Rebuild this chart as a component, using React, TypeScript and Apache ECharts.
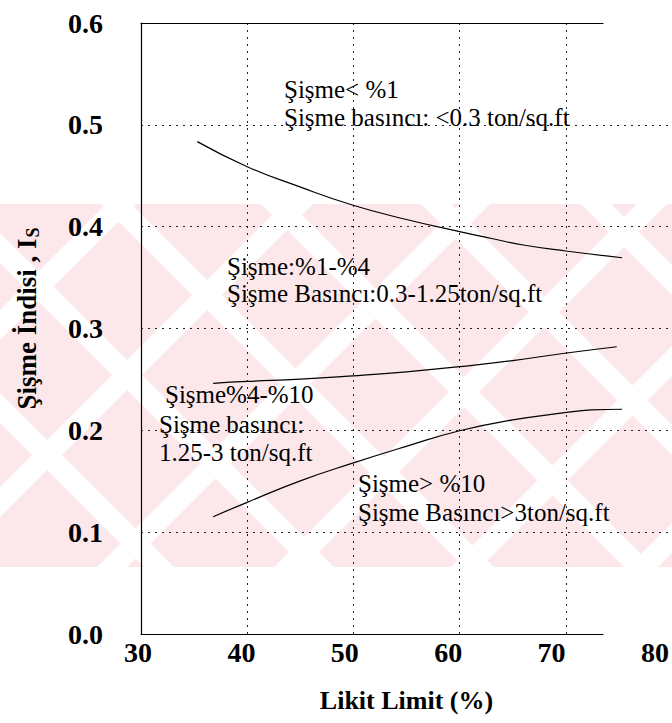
import React, { useEffect, useRef } from "react";
import * as echarts from "echarts";

// ---- tick labels ----
const xTickLabels = [30, 40, 50, 60, 70, 80];
const yTickLabels = [0, 0.1, 0.2, 0.3, 0.4, 0.5, 0.6];

// ---- boundary curves (Likit Limit %, Şişme İndisi) ----
const upperX = [35.3, 40, 44.9, 49.9, 55, 60, 62.9, 66, 70, 75.3];
const upperY = [0.4835, 0.4589, 0.4393, 0.4213, 0.407, 0.3951, 0.3886, 0.382, 0.3761, 0.3695];

const middleX = [36.8, 40, 45, 50, 55, 60, 65, 69.9, 74.8];
const middleY = [0.2462, 0.248, 0.2502, 0.2535, 0.2575, 0.2625, 0.2685, 0.2757, 0.2821];

const lowerX = [36.8, 40, 45, 50, 54.9, 60, 65, 69.9, 72.4, 75.3];
const lowerY = [0.1152, 0.1293, 0.1504, 0.168, 0.184, 0.1996, 0.2102, 0.2173, 0.22, 0.2207];

// ---- zone annotations ----
const zoneTexts = [
  ["Şişme< %1", "Şişme basıncı: <0.3 ton/sq.ft"],
  ["Şişme:%1-%4", "Şişme Basıncı:0.3-1.25ton/sq.ft"],
  ["Şişme%4-%10"],
  ["Şişme basıncı:", "1.25-3 ton/sq.ft"],
  ["Şişme> %10", "Şişme Basıncı>3ton/sq.ft"],
];
const zoneLayout = [
  { x: 284, y: 75, lh: 28 },
  { x: 227, y: 253, lh: 27 },
  { x: 165, y: 380, lh: 28 },
  { x: 159, y: 410, lh: 28 },
  { x: 358, y: 469, lh: 29 },
];

const FONT = "'Liberation Serif', 'Times New Roman', serif";

function pairs(xs: number[], ys: number[]) {
  return xs.map((x, i) => [x, ys[i]]);
}

function watermark() {
  const top = 204;
  const bottom = 567;
  const w = 30;
  const els: any[] = [
    {
      type: "rect",
      shape: { x: 0, y: top, width: 672, height: bottom - top },
      style: { fill: "#fce7ea" },
      z: -100,
      silent: true,
    },
  ];
  for (let k = -2; k <= 3; k++) {
    const c = -103 + 160 * k;
    els.push({
      type: "polygon",
      shape: {
        points: [
          [c + top, top],
          [c + top + w, top],
          [c + bottom + w, bottom],
          [c + bottom, bottom],
        ],
      },
      style: { fill: "#ffffff" },
      z: -99,
      silent: true,
    });
  }
  for (let k = -1; k <= 4; k++) {
    const d = 487 + 177 * k;
    els.push({
      type: "polygon",
      shape: {
        points: [
          [d - top, top],
          [d - top + w, top],
          [d - bottom + w, bottom],
          [d - bottom, bottom],
        ],
      },
      style: { fill: "#ffffff" },
      z: -99,
      silent: true,
    });
  }
  return els;
}

export default function App() {
  const ref = useRef<HTMLDivElement>(null);

  useEffect(() => {
    if (!ref.current) return;
    const chart = echarts.init(ref.current, undefined, { renderer: "svg" });

    const gridLine = { color: "#222", type: [2, 5] as any, width: 1 };
    const frameLine = { color: "#000", width: 1.2 };

    const texts = zoneTexts.map((lines, i) => ({
      type: "text",
      x: zoneLayout[i].x,
      y: zoneLayout[i].y,
      z: 100,
      silent: true,
      style: {
        text: lines.join("\n"),
        fontFamily: FONT,
        fontSize: 25,
        lineHeight: zoneLayout[i].lh,
        fill: "#000",
        align: "left",
        verticalAlign: "top",
      },
    }));

    const lineSeries = (data: number[][]) => ({
      type: "line",
      xAxisIndex: 0,
      yAxisIndex: 0,
      data,
      smooth: true,
      showSymbol: false,
      symbol: "none",
      lineStyle: { color: "#000", width: 1.2 },
      z: 5,
    });

    chart.setOption({
      animation: false,
      backgroundColor: "#ffffff",
      grid: [
        { left: 141, top: 23, width: 545, height: 611 },
        { left: 138, top: 23, width: 517, height: 611 },
        { left: 141, top: 23, width: 462, height: 611 },
      ],
      xAxis: [
        {
          gridIndex: 0,
          type: "value",
          min: xTickLabels[0],
          max: xTickLabels[xTickLabels.length - 1],
          interval: 10,
          axisLine: { show: false },
          axisTick: { show: false },
          axisLabel: { show: false },
          splitLine: { show: true, showMinLine: false, lineStyle: gridLine },
          name: "Likit Limit (%)",
          nameLocation: "middle",
          nameGap: 53,
          nameTextStyle: { fontFamily: FONT, fontSize: 26, fontWeight: "bold", color: "#000" },
        },
        {
          gridIndex: 1,
          type: "value",
          min: xTickLabels[0],
          max: xTickLabels[xTickLabels.length - 1],
          interval: 10,
          axisLine: { show: false },
          axisTick: { show: false },
          splitLine: { show: false },
          axisLabel: {
            show: true,
            margin: 4,
            fontFamily: FONT,
            fontSize: 28,
            fontWeight: "bold",
            color: "#000",
            showMinLabel: true,
            showMaxLabel: true,
          },
        },
        {
          gridIndex: 2,
          type: "value",
          position: "bottom",
          min: 0,
          max: 1,
          axisLine: { show: true, lineStyle: frameLine },
          axisTick: { show: false },
          axisLabel: { show: false },
          splitLine: { show: false },
        },
        {
          gridIndex: 2,
          type: "value",
          position: "top",
          min: 0,
          max: 1,
          axisLine: { show: true, lineStyle: frameLine },
          axisTick: { show: false },
          axisLabel: { show: false },
          splitLine: { show: false },
        },
      ],
      yAxis: [
        {
          gridIndex: 0,
          type: "value",
          min: yTickLabels[0],
          max: yTickLabels[yTickLabels.length - 1],
          interval: 0.1,
          axisLine: { show: true, lineStyle: frameLine },
          axisTick: { show: false },
          axisLabel: {
            margin: 38,
            fontFamily: FONT,
            fontSize: 28,
            fontWeight: "bold",
            color: "#000",
            formatter: (v: number) => v.toFixed(1),
          },
          splitLine: { show: true, showMinLine: false, showMaxLine: false, lineStyle: gridLine },
          name: "{a|Şişme İndisi , I}{b|S}",
          nameLocation: "middle",
          nameGap: 99,
          nameTextStyle: {
            padding: [0, 0, 0, 20],
            rich: {
              a: { fontFamily: FONT, fontSize: 27, fontWeight: "bold", color: "#000" },
              b: {
                fontFamily: FONT,
                fontSize: 18,
                fontWeight: "bold",
                color: "#000",
                padding: [12, 0, 0, 1],
              },
            },
          },
        },
        { gridIndex: 1, type: "value", show: false, min: 0, max: 1 },
        { gridIndex: 2, type: "value", show: false, min: 0, max: 1 },
      ],
      graphic: [...watermark(), ...texts],
      series: [
        lineSeries(pairs(upperX, upperY)),
        lineSeries(pairs(middleX, middleY)),
        lineSeries(pairs(lowerX, lowerY)),
      ],
    });

    return () => chart.dispose();
  }, []);

  return (
    <div
      ref={ref}
      style={{ position: "absolute", left: 0, top: 0, width: 672, height: 723 }}
    />
  );
}
